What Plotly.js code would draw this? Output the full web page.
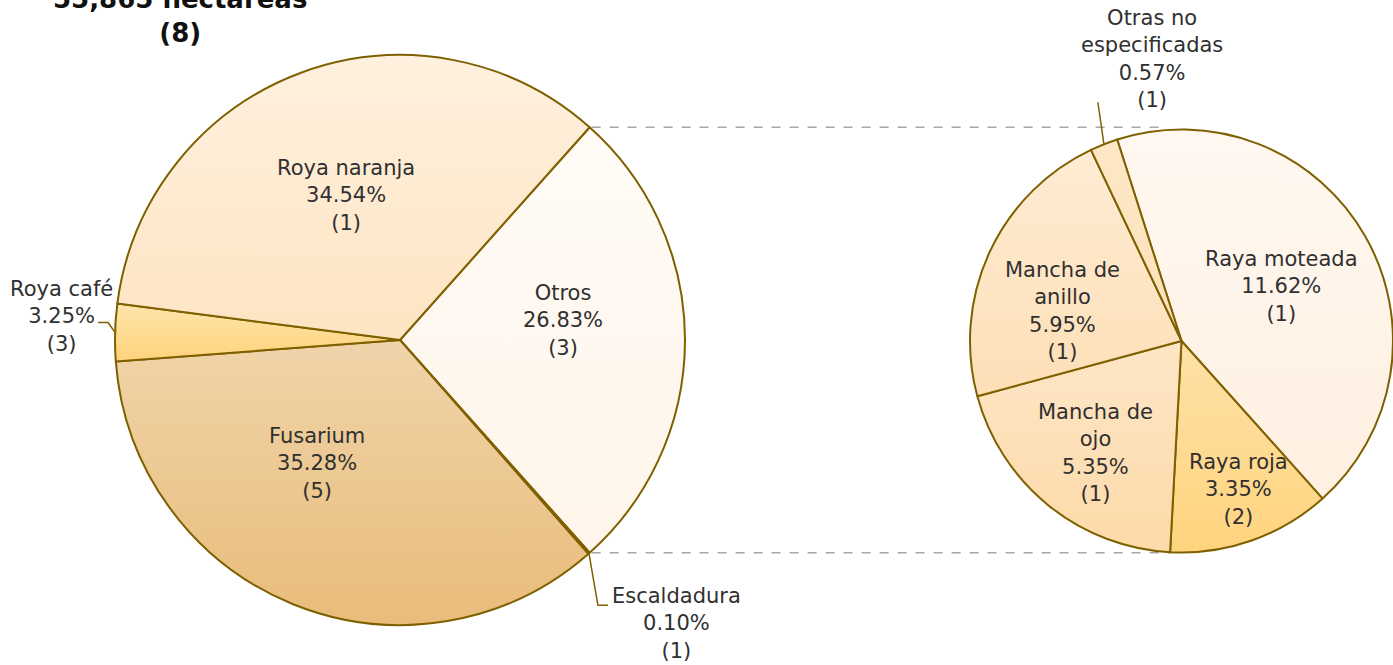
<!DOCTYPE html>
<html><head><meta charset="utf-8">
<script src="https://cdn.plot.ly/plotly-3.0.1.min.js"></script>
<style>html,body{margin:0;padding:0;background:#fff;overflow:hidden}#chart{width:1393px;height:665px}</style>
</head><body><div id="chart"></div>
<script>
// ---------- DATA ----------
const mainLabels = ['Otros', 'Escaldadura', 'Fusarium', 'Roya café', 'Roya naranja'];
const mainValues = [26.83, 0.10, 35.28, 3.25, 34.54];
const mainCounts = [3, 1, 5, 3, 1];
const subLabels = ['Raya moteada', 'Raya roja', 'Mancha de ojo', 'Mancha de anillo', 'Otras no especificadas'];
const subValues = [11.62, 3.35, 5.35, 5.95, 0.57];
const subCounts = [1, 2, 1, 1, 1];
const titleLines = ['55,865 hectáreas', '(8)'];

// ---------- STYLE ----------
const W = 1393, H = 665;
const FONT = 'DejaVu Sans';
const TXT = '#303030';
const EDGE = '#7f6000';
const domL = {x: [115 / W, 685 / W], y: [1 - 625 / H, 1 - 55 / H]};
const domR = {x: [970 / W, 1], y: [1 - 552.5 / H, 1 - 129.5 / H]};
const rotR = -17.7;
const mainGrad = [['#fffbf6', '#fff5ea'], ['#f5dcae', '#efcb8e'], ['#f0d4aa', '#e9bc79'], ['#fde4ab', '#ffd37b'], ['#fff1df', '#fde4c2']];
const subGrad = [['#fff8f1', '#fff0e0'], ['#fee1a7', '#ffd47e'], ['#fde6c7', '#fddaa8'], ['#feecd4', '#fddfb6'], ['#fde7c6', '#fde2ba']];
const wrapMap = {'Mancha de anillo': 'Mancha de<br>anillo', 'Mancha de ojo': 'Mancha de<br>ojo', 'Otras no especificadas': 'Otras no<br>especificadas'};
// inside label placement: angle offset from slice middle (deg), radius fraction
const mainPlace = {'Otros': [-7, 0.575], 'Fusarium': [11.7, 0.52], 'Roya naranja': [0, 0.54]};
const subPlace = {'Raya moteada': [1.2, 0.54], 'Raya roja': [-1.5, 0.75], 'Mancha de ojo': [-1.4, 0.67], 'Mancha de anillo': [-10.7, 0.58]};

// ---------- GEOMETRY ----------
function geom(d) {
  const w = (d.x[1] - d.x[0]) * W, h = (d.y[1] - d.y[0]) * H;
  return {cx: (d.x[0] + d.x[1]) / 2 * W, cy: (1 - (d.y[0] + d.y[1]) / 2) * H, R: Math.min(w, h) / 2};
}
function angles(vals, rot) {
  const tot = vals.reduce((a, b) => a + b, 0);
  let a = rot;
  return vals.map(v => { const s = a; a += v / tot * 360; return {s: s, e: a, m: (s + a) / 2}; });
}
function pt(g, ang, r) {
  const t = ang * Math.PI / 180;
  return {x: g.cx + r * Math.sin(t), y: g.cy - r * Math.cos(t)};
}
const px = x => x / W, py = y => 1 - y / H;
const totalMain = mainValues.reduce((a, b) => a + b, 0);
const rotL = 90 - mainValues[0] / totalMain * 180;
const gL = geom(domL), gR = geom(domR);
const angL = angles(mainValues, rotL), angR = angles(subValues, rotR);

function labelText(name, v, c) {
  return (wrapMap[name] || name) + '<br>' + v.toFixed(2) + '%<br>(' + c + ')';
}
const font = {family: FONT, size: 21, color: TXT};
const annotations = [];
const shapes = [];

function insideLabels(labels, vals, counts, ang, g, place) {
  labels.forEach((n, i) => {
    if (!place[n]) return;
    const p = pt(g, ang[i].m + place[n][0], g.R * place[n][1]);
    annotations.push({xref: 'paper', yref: 'paper', x: px(p.x), y: py(p.y), xanchor: 'center', yanchor: 'middle',
      text: labelText(n, vals[i], counts[i]), showarrow: false, font: font, align: 'center'});
  });
}
insideLabels(mainLabels, mainValues, mainCounts, angL, gL, mainPlace);
insideLabels(subLabels, subValues, subCounts, angR, gR, subPlace);

function leader(points) {
  return {type: 'path', xref: 'paper', yref: 'paper', layer: 'above',
    path: points.map((p, i) => (i ? 'L' : 'M') + px(p.x) + ',' + py(p.y)).join(' '),
    line: {color: EDGE, width: 1.5}};
}
// Escaldadura
(function () {
  const i = mainLabels.indexOf('Escaldadura');
  const e = pt(gL, angL[i].m, gL.R);
  const a = {x: e.x + 9, y: e.y + 52}, b = {x: a.x + 10, y: a.y};
  shapes.push(leader([e, a, b]));
  annotations.push({xref: 'paper', yref: 'paper', x: px(b.x + 2), y: py(b.y + 18), xanchor: 'left', yanchor: 'middle',
    text: labelText(mainLabels[i], mainValues[i], mainCounts[i]), showarrow: false, font: font, align: 'center'});
})();
// Roya café
(function () {
  const i = mainLabels.indexOf('Roya café');
  const e = pt(gL, angL[i].m, gL.R);
  const a = {x: e.x - 7, y: e.y - 10}, b = {x: a.x - 10, y: a.y};
  shapes.push(leader([e, a, b]));
  annotations.push({xref: 'paper', yref: 'paper', x: px(e.x), y: py(e.y - 16), xanchor: 'right', yanchor: 'middle',
    text: labelText(mainLabels[i], mainValues[i], mainCounts[i]), showarrow: false, font: font, align: 'center'});
})();
// Otras no especificadas
(function () {
  const i = subLabels.indexOf('Otras no especificadas');
  const e = pt(gR, angR[i].m, gR.R);
  const a = {x: e.x - 6, y: e.y - 42};
  shapes.push(leader([e, a]));
  annotations.push({xref: 'paper', yref: 'paper', x: px(e.x + 48), y: py(e.y - 30), xanchor: 'center', yanchor: 'bottom',
    text: labelText(subLabels[i], subValues[i], subCounts[i]), showarrow: false, font: font, align: 'center'});
})();

// connector dashed lines between the "Otros" slice and the second pie
(function () {
  const top = pt(gL, angL[0].s, gL.R), bot = pt(gL, angL[0].e, gL.R);
  const ends = [gR.cx - 20, gR.cx - 11];
  [top, bot].forEach((p, k) => {
    shapes.push({type: 'line', xref: 'paper', yref: 'paper', layer: 'below',
      x0: px(p.x + 2), y0: py(p.y), x1: px(ends[k]), y1: py(p.y),
      line: {color: '#a6a6a6', width: 1.5, dash: 'dash'}});
  });
})();

// title (top part cut off by the page edge, as in the reference)
annotations.push({xref: 'paper', yref: 'paper', x: px(180), y: py(50), xanchor: 'center', yanchor: 'bottom',
  text: '<b>' + titleLines.join('<br>') + '</b>', showarrow: false,
  font: {family: FONT, size: 26, color: '#111111'}, align: 'center'});

const mid = g => g.map(c => c[1]);
const traces = [
  {type: 'pie', labels: mainLabels, values: mainValues, sort: false, direction: 'clockwise', rotation: rotL,
   domain: domL, textinfo: 'none', hoverinfo: 'none', showlegend: false,
   marker: {colors: mid(mainGrad), line: {color: EDGE, width: 2}}},
  {type: 'pie', labels: subLabels, values: subValues, sort: false, direction: 'clockwise', rotation: rotR,
   domain: domR, textinfo: 'none', hoverinfo: 'none', showlegend: false,
   marker: {colors: mid(subGrad), line: {color: EDGE, width: 2}}}
];
const layout = {width: W, height: H, margin: {l: 0, r: 0, t: 0, b: 0}, paper_bgcolor: '#ffffff',
  showlegend: false, annotations: annotations, shapes: shapes, font: {family: FONT}};

Plotly.newPlot('chart', traces, layout, {displayModeBar: false, staticPlot: true}).then(gd => {
  // vertical gradient fill on each slice (like the reference)
  const svg = gd.querySelector('svg.main-svg');
  const defs = svg.querySelector('defs');
  const NS = 'http://www.w3.org/2000/svg';
  const traceGs = gd.querySelectorAll('.pielayer .trace');
  [mainGrad, subGrad].forEach((grads, t) => {
    const slices = traceGs[t] ? traceGs[t].querySelectorAll('g.slice path.surface') : [];
    slices.forEach((path, i) => {
      const id = 'grad' + t + '_' + i;
      const lg = document.createElementNS(NS, 'linearGradient');
      lg.setAttribute('id', id);
      lg.setAttribute('x1', '0'); lg.setAttribute('y1', '0'); lg.setAttribute('x2', '0'); lg.setAttribute('y2', '1');
      grads[i].forEach((c, k) => {
        const st = document.createElementNS(NS, 'stop');
        st.setAttribute('offset', k ? '1' : '0');
        st.setAttribute('stop-color', c);
        lg.appendChild(st);
      });
      defs.appendChild(lg);
      path.style.fill = 'url(#' + id + ')';
    });
  });
});
</script>
</body></html>
